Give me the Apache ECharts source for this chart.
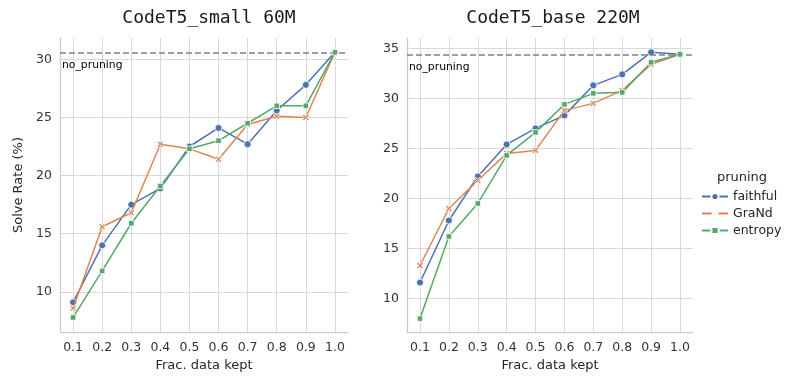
<!DOCTYPE html>
<html>
<head>
<meta charset="utf-8">
<script src="https://cdn.jsdelivr.net/npm/echarts@6/dist/echarts.min.js"></script>
<style>
  html, body { margin: 0; padding: 0; background: #fff; }
  #chart { width: 789px; height: 378px; }
</style>
</head>
<body>
<div id="chart"></div>
<script>
var fracs = [0.1, 0.2, 0.3, 0.4, 0.5, 0.6, 0.7, 0.8, 0.9, 1.0];

// CodeT5_small 60M
var smallFaithful = [9.1, 14.0, 17.5, 18.9, 22.5, 24.1, 22.7, 25.6, 27.8, 30.6];
var smallGrand = [8.6, 15.6, 16.8, 22.7, 22.3, 21.4, 24.4, 25.1, 25.0, 30.6];
var smallEntropy = [7.8, 11.8, 15.9, 19.1, 22.3, 23.0, 24.5, 26.0, 26.0, 30.6];
var smallNoPruning = 30.6;

// CodeT5_base 220M
var baseFaithful = [11.6, 17.8, 22.2, 25.4, 27.0, 28.3, 31.3, 32.4, 34.6, 34.4];
var baseGrand = [13.3, 19.0, 21.8, 24.5, 24.8, 28.8, 29.5, 30.8, 33.4, 34.4];
var baseEntropy = [8.0, 16.2, 19.5, 24.3, 26.6, 29.4, 30.5, 30.6, 33.6, 34.4];
var baseNoPruning = 34.4;

var smallTicks = [10, 15, 20, 25, 30];
var baseTicks = [10, 15, 20, 25, 30, 35];

var names = ['faithful', 'GraNd', 'entropy'];
var colors = ['#4c72b0', '#dd8452', '#55a868'];
var symbols = [
  'circle',
  'path://M0,2 L2,0 L5,3 L8,0 L10,2 L7,5 L10,8 L8,10 L5,7 L2,10 L0,8 L3,5 Z',
  'rect'
];
var symbolSizes = [7, 6.5, 5.5];

function pairs(ys) {
  return fracs.map(function (x, i) { return [x, ys[i]]; });
}

var chart = echarts.init(document.getElementById('chart'));

function xAxisCfg(idx) {
  return {
    type: 'value',
    gridIndex: idx,
    min: 0.055,
    max: 1.045,
    name: 'Frac. data kept',
    nameLocation: 'middle',
    nameGap: 24,
    nameTextStyle: { fontFamily: 'DejaVu Sans', fontSize: 13, color: '#262626' },
    axisLine: { show: true, lineStyle: { color: '#cccccc', width: 1.25 } },
    axisTick: { show: false, customValues: fracs },
    axisLabel: {
      customValues: fracs,
      formatter: function (v) { return v.toFixed(1); },
      fontFamily: 'DejaVu Sans', fontSize: 12.5, color: '#333333', margin: 9
    },
    splitLine: { show: true, lineStyle: { color: '#d9d9d9', width: 1 } }
  };
}

function yAxisCfg(idx, min, max, ticks, name) {
  return {
    type: 'value',
    gridIndex: idx,
    min: min,
    max: max,
    name: name,
    nameLocation: 'middle',
    nameGap: 35,
    nameTextStyle: { fontFamily: 'DejaVu Sans', fontSize: 13, color: '#262626' },
    axisLine: { show: true, lineStyle: { color: '#cccccc', width: 1.25 } },
    axisTick: { show: false, customValues: ticks },
    axisLabel: {
      customValues: ticks,
      fontFamily: 'DejaVu Sans', fontSize: 12.5, color: '#333333', margin: 8
    },
    splitLine: { show: true, lineStyle: { color: '#d9d9d9', width: 1 } }
  };
}

function noPruningLine(val) {
  return {
    silent: true,
    symbol: 'none',
    lineStyle: { color: '#808080', type: [6, 3], width: 1.5 },
    label: {
      show: true,
      position: 'insideStartBottom',
      formatter: 'no_pruning',
      fontFamily: 'DejaVu Sans', fontSize: 10.8, color: '#000',
      distance: [2, 7]
    },
    data: [{ yAxis: val }]
  };
}

var panels = [
  [smallFaithful, smallGrand, smallEntropy, smallNoPruning],
  [baseFaithful, baseGrand, baseEntropy, baseNoPruning]
];

var series = [];
panels.forEach(function (p, g) {
  for (var k = 0; k < 3; k++) {
    var s = {
      name: names[k],
      type: 'line',
      xAxisIndex: g,
      yAxisIndex: g,
      data: pairs(p[k]),
      symbol: symbols[k],
      symbolSize: symbolSizes[k],
      showAllSymbol: true,
      lineStyle: { color: colors[k], width: 1.5 },
      itemStyle: { color: colors[k], borderColor: '#fff', borderWidth: 0.8 },
      z: 3 + k
    };
    if (k === 0) s.markLine = noPruningLine(p[3]);
    series.push(s);
  }
});

var option = {
  animation: false,
  backgroundColor: '#fff',
  title: [
    { text: 'CodeT5_small 60M', left: 204, top: 4, textAlign: 'center',
      textStyle: { fontFamily: 'DejaVu Sans Mono', fontSize: 18, fontWeight: 'normal', color: '#1a1a1a' } },
    { text: 'CodeT5_base 220M', left: 548, top: 4, textAlign: 'center',
      textStyle: { fontFamily: 'DejaVu Sans Mono', fontSize: 18, fontWeight: 'normal', color: '#1a1a1a' } },
    { text: 'pruning', left: 737, top: 166, textAlign: 'center',
      textStyle: { fontFamily: 'DejaVu Sans', fontSize: 13, fontWeight: 'normal', color: '#262626' } }
  ],
  legend: {
    data: names,
    orient: 'vertical',
    left: 696,
    top: 185,
    itemWidth: 26,
    itemHeight: 9,
    itemGap: 4,
    textStyle: { fontFamily: 'DejaVu Sans', fontSize: 12.5, color: '#262626' }
  },
  grid: [
    { left: 60, top: 38, width: 288, height: 294 },
    { left: 407, top: 38, width: 286, height: 294 }
  ],
  xAxis: [xAxisCfg(0), xAxisCfg(1)],
  yAxis: [
    yAxisCfg(0, 6.55, 31.83, smallTicks, 'Solve Rate (%)'),
    yAxisCfg(1, 6.66, 36.03, baseTicks, '')
  ],
  series: series
};

chart.setOption(option);
</script>
</body>
</html>
